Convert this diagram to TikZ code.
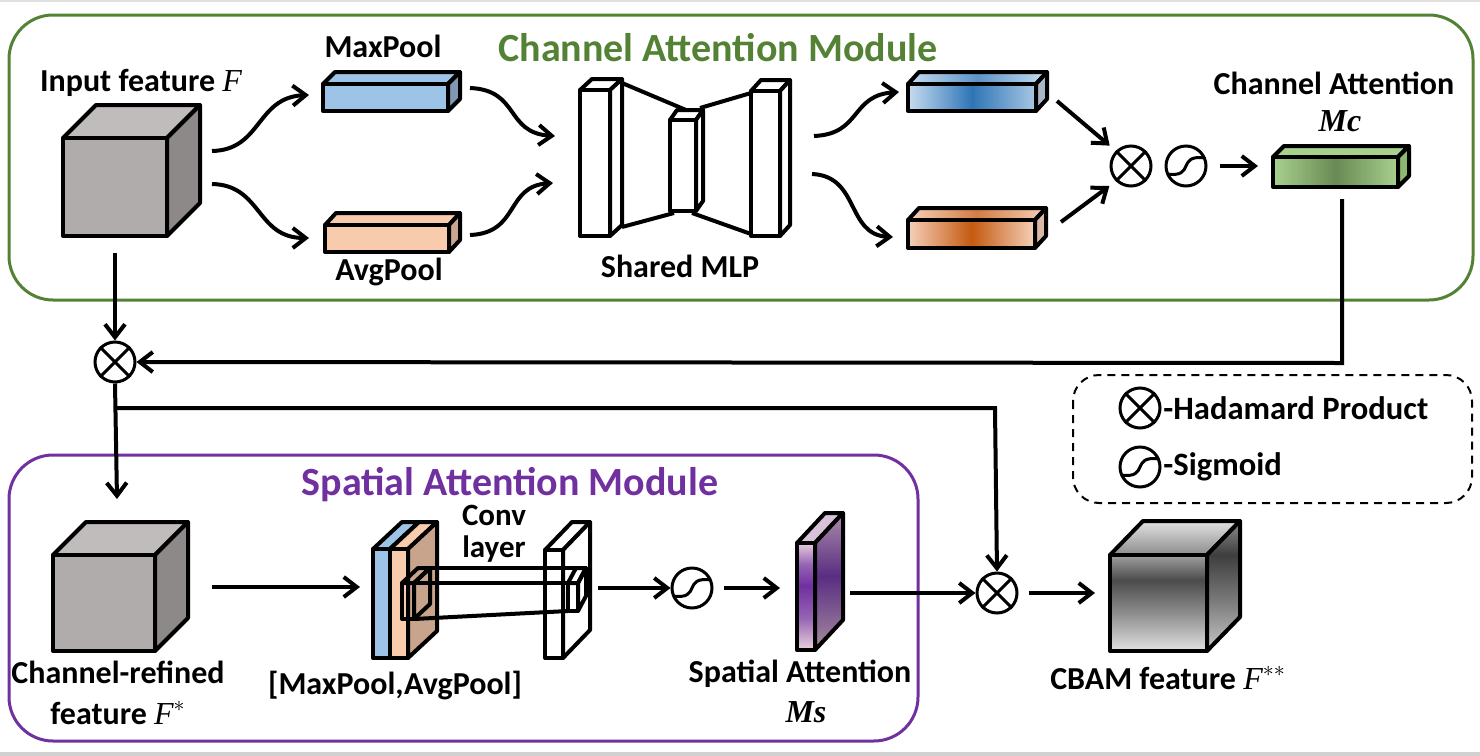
\documentclass[tikz,border=0pt]{standalone}
\usepackage{fontspec}
\setmainfont{Carlito}
\newfontfamily\mfont{Liberation Serif}
\usetikzlibrary{arrows.meta,calc}
\definecolor{cagreen}{RGB}{84,130,53}
\definecolor{sapurple}{RGB}{112,48,160}
\definecolor{cubefront}{RGB}{175,172,171}
\definecolor{cubetop}{RGB}{192,188,187}
\definecolor{cubeside}{RGB}{141,137,136}
\definecolor{mpblue}{RGB}{157,195,230}
\definecolor{mpside}{RGB}{128,152,178}
\definecolor{appeach}{RGB}{248,203,173}
\definecolor{apside}{RGB}{201,166,144}
\definecolor{bluelt}{RGB}{200,220,240}
\definecolor{bluedk}{RGB}{46,117,182}
\definecolor{blueside}{RGB}{168,184,200}
\definecolor{orglt}{RGB}{245,208,186}
\definecolor{orgdk}{RGB}{197,90,17}
\definecolor{orgside}{RGB}{217,184,165}
\definecolor{grnlt}{RGB}{169,209,142}
\definecolor{grndk}{RGB}{104,137,84}
\definecolor{grnside}{RGB}{141,184,112}
\definecolor{brownside}{RGB}{201,164,140}
\definecolor{cbA}{RGB}{226,226,226}
\definecolor{cbB}{RGB}{140,140,140}
\definecolor{cbC}{RGB}{75,75,75}
\definecolor{cbD}{RGB}{160,160,160}
\definecolor{cbE}{RGB}{200,200,200}
\definecolor{cbF}{RGB}{120,120,120}
\definecolor{cbG}{RGB}{62,62,62}
\definecolor{cbH}{RGB}{140,140,140}
\definecolor{puA}{RGB}{235,210,220}
\definecolor{puB}{RGB}{112,48,160}
\definecolor{puC}{RGB}{150,100,180}
\definecolor{puD}{RGB}{230,205,222}
\definecolor{psA}{RGB}{165,140,160}
\definecolor{psB}{RGB}{90,45,130}
\definecolor{psC}{RGB}{170,140,170}
\definecolor{putop}{RGB}{217,194,216}
\pgfdeclareverticalshading{cbamfront}{100bp}{color(0bp)=(cbA); color(25bp)=(cbA); color(45bp)=(cbB); color(62bp)=(cbC); color(75bp)=(cbD); color(100bp)=(cbD)}
\pgfdeclareverticalshading{cbamside}{100bp}{color(0bp)=(cbE); color(25bp)=(cbE); color(45bp)=(cbF); color(62bp)=(cbG); color(75bp)=(cbH); color(100bp)=(cbH)}
\pgfdeclareverticalshading{cbamtop}{100bp}{color(0bp)=(cbB); color(25bp)=(cbB); color(75bp)=(cbA); color(100bp)=(cbA)}
\pgfdeclareverticalshading{pufront}{100bp}{color(0bp)=(puA); color(25bp)=(puA); color(40bp)=(puC); color(55bp)=(puB); color(65bp)=(puC); color(75bp)=(puD); color(100bp)=(puD)}
\pgfdeclareverticalshading{puside}{100bp}{color(0bp)=(psA); color(25bp)=(psA); color(52bp)=(psB); color(75bp)=(psC); color(100bp)=(psC)}
\newcommand\cuboid[9]{%
  \path[draw,line width=2pt,line join=round,#8] (#1,#2) -- (#1+#5,#2-#6) -- (#3+#5,#2-#6) -- (#3,#2) -- cycle;
  \path[draw,line width=2pt,line join=round,#9] (#3,#2) -- (#3+#5,#2-#6) -- (#3+#5,#4-#6) -- (#3,#4) -- cycle;
  \path[draw,line width=2pt,line join=round,#7] (#1,#2) rectangle (#3,#4);
}
\newcommand\otimesmark[1]{\draw[line width=1.5pt] (#1.north east)--(#1.south west) (#1.north west)--(#1.south east);}
\newcommand\sigmark[1]{\draw[line width=1.5pt] ([shift={(-19,8)}]#1.center) .. controls ([shift={(10,12)}]#1.center) and ([shift={(-10,-12)}]#1.center) .. ([shift={(19,-8)}]#1.center);}
\newcommand\vF{{\mfont\mdseries\itshape F}}
\tikzset{
  lbl/.style={font=\fontsize{16}{18}\selectfont\bfseries, inner sep=0pt},
  ttl/.style={font=\fontsize{20}{22}\selectfont\bfseries, inner sep=0pt},
  opnode/.style={circle, draw, line width=1.5pt, minimum size=20pt, inner sep=0pt},
  arr/.style={line width=2pt, -{Straight Barb[length=6.5pt,width=10pt,line width=2pt]}},
  ln/.style={line width=2pt},
}
\begin{document}
\begin{tikzpicture}[x=0.5pt,y=-0.5pt]
\useasboundingbox (0,0) rectangle (1480,756);
\fill[black!18] (0,752) rectangle (1480,756);
\fill[black!12] (0,0) rectangle (1480,1.5);
% module frames
\draw[line width=1.5pt, cagreen, rounded corners=22pt] (9,15) rectangle (1473,300);
\draw[line width=1.5pt, sapurple, rounded corners=22pt] (9,455) rectangle (918,741);
\draw[line width=1pt, dash pattern=on 4pt off 3pt, rounded corners=13pt] (1073,375) rectangle (1472,503);
\node[ttl, text=cagreen] (cat) at (718,48) {Channel Attention Module};
\node[ttl, text=sapurple] (sat) at (510,485) {Spatial Attention Module};
% input cube
\cuboid{63}{138}{167}{236}{33}{33}{fill=cubefront}{fill=cubetop}{fill=cubeside}
\node[lbl] (inlab) at (141,83) {Input feature \vF};
% pool bars
\cuboid{323}{84}{448}{111}{12}{12}{fill=mpblue}{fill=mpblue}{fill=mpside}
\cuboid{325}{225}{449}{252}{11}{12}{fill=appeach}{fill=appeach}{fill=apside}
\node[lbl] (mplab) at (383,46) {MaxPool};
\node[lbl] (aplab) at (389,272) {AvgPool};
% MLP
\draw[ln] (622,83) -- (686,110) (700,108) -- (751,93);
\draw[ln] (622,227) -- (674,213) (692,213) -- (751,234);
\cuboid{580}{90}{610}{236}{12}{11}{fill=white}{fill=white}{fill=white}
\cuboid{670}{120}{696}{211}{7}{10}{fill=white}{fill=white}{fill=white}
\cuboid{751}{91}{780}{236}{10}{11}{fill=white}{fill=white}{fill=white}
\node[lbl] (mlplab) at (680,266) {Shared MLP};
% gradient bars
\cuboid{908}{84}{1036}{111}{11}{12}{left color=bluelt,right color=bluelt!80!bluedk,middle color=bluedk}{left color=bluelt,right color=bluelt,middle color=bluedk!70!bluelt}{fill=blueside}
\cuboid{908}{220}{1035}{248}{11}{12}{left color=orglt,right color=orglt,middle color=orgdk}{left color=orglt,right color=orglt,middle color=orgdk!70!orglt}{fill=orgside}
% channel attention bar
\cuboid{1273}{157}{1398}{187}{11}{11}{left color=grnlt,right color=grnlt,middle color=grndk}{fill=grnlt}{fill=grnside}
\node[lbl] (calab) at (1334,83) {Channel Attention};
\node[lbl] (mclab) at (1340,121) {{\mfont\bfseries\itshape Mc}};
% operators top
\node[opnode] (ot1) at (1131,166) {}; \otimesmark{ot1}
\node[opnode] (sg1) at (1186,166) {}; \sigmark{sg1}
% coordinates
\coordinate (inA) at (212,151); \coordinate (mpIn) at (309,95);
\coordinate (inB) at (212,184); \coordinate (apIn) at (309,238);
\coordinate (mpOut) at (470,88); \coordinate (mlpInA) at (555,136);
\coordinate (apOut) at (470,235); \coordinate (mlpInB) at (553,183);
\coordinate (mlpOutA) at (814,136); \coordinate (bbIn) at (899,92);
\coordinate (mlpOutB) at (812,174); \coordinate (obIn) at (893,237);
\coordinate (bbOut) at (1057,101); \coordinate (obOut) at (1061,222);
\coordinate (gbIn) at (1258,166);
\coordinate (gbOut) at (1342,199); \coordinate (gbCorner) at (1342,363);
\coordinate (inDown) at (115,253);
\draw[arr] (inA) .. controls (262,150) and (256,97) .. (mpIn);
\draw[arr] (inB) .. controls (262,185) and (256,238) .. (apIn);
\draw[arr] (mpOut) .. controls (520,90) and (505,133) .. (mlpInA);
\draw[arr] (apOut) .. controls (520,233) and (505,186) .. (mlpInB);
\draw[arr] (mlpOutA) .. controls (862,134) and (850,95) .. (bbIn);
\draw[arr] (mlpOutB) .. controls (860,176) and (846,235) .. (obIn);
\draw[arr, shorten >=4pt] (bbOut) -- (ot1.north west);
\draw[arr, shorten >=4pt] (obOut) -- (ot1.south west);
\draw[arr] (sg1.east) ++(12,0) -- (gbIn);
% left column
\node[opnode] (ot2) at (115,362) {}; \otimesmark{ot2}
\draw[arr] (inDown) -- (ot2.north);
\draw[arr] (gbOut) -- (gbCorner) -- (ot2.east);
\coordinate (br) at (117,408);
\coordinate (fsIn) at (117,499);
\draw[arr] (ot2.south) -- (fsIn);
% legend
\node[opnode] (lot) at (1140,408) {}; \otimesmark{lot}
\node[opnode] (lsg) at (1140,467) {}; \sigmark{lsg}
\node[lbl, anchor=west, font=\fontsize{16.3}{18}\selectfont\bfseries] (lt1) at (1163,408) {-Hadamard Product};
\node[lbl, anchor=west, font=\fontsize{16.3}{18}\selectfont\bfseries] (lt2) at (1163,467) {-Sigmoid};
% spatial module
\cuboid{53}{555}{155}{651}{33}{33}{fill=cubefront}{fill=cubetop}{fill=cubeside}
\node[lbl] (crlab) at (118,672) {Channel-refined};
\node[lbl] (crlab2) at (118,713) {feature \vF$^{*}$};
\coordinate (crOut) at (212,587); \coordinate (stIn) at (360,587);
\draw[arr] (crOut) -- (stIn);
% stacked pool maps
\cuboid{373}{549}{390}{658}{29}{27}{fill=mpblue}{fill=mpblue}{fill=mpblue}
\cuboid{390}{549}{408}{658}{29}{27}{fill=appeach}{fill=appeach}{fill=brownside}
% kernel cube on stack
\cuboid{402}{583}{414}{619}{16}{15}{fill=none}{fill=none}{fill=none}
% conv layer slab
\cuboid{545}{550}{563}{658}{27}{28}{fill=white}{fill=white}{fill=white}
\cuboid{568}{583}{578}{611}{8}{15}{fill=none}{fill=none}{fill=none}
\draw[ln] (418,568) -- (586,568);
\draw[ln] (414,583) -- (568,583);
\draw[ln] (414,619) -- (568,611);
\node[lbl, align=center, font=\fontsize{15.5}{16}\selectfont\bfseries] (convlab) at (494,534) {Conv\\layer};
\node[lbl] (stlab) at (395,686) {[MaxPool,AvgPool]};
\coordinate (cvOut) at (598,588);
\node[opnode] (sg2) at (692,588) {}; \sigmark{sg2}
\draw[arr] (cvOut) -- (sg2.west);
\coordinate (msIn) at (780,588);
\draw[arr] (sg2.east) ++(10,0) -- (msIn);
% Ms slab
\cuboid{797}{543}{815}{650}{28}{30}{shade,shading=pufront}{fill=putop}{shade,shading=puside}
\node[lbl] (salab) at (800,674) {Spatial Attention};
\node[lbl] (mslab) at (806,712) {{\mfont\bfseries\itshape Ms}};
% final product
\node[opnode] (ot3) at (997,593) {}; \otimesmark{ot3}
\coordinate (msOut) at (850,593);
\draw[arr] (msOut) -- (ot3.west);
\draw[arr] (ot2.south |- br) -- (995,408) -- (ot3.north);
\coordinate (cbIn) at (1095,593);
\draw[arr] (ot3.east) ++(10,0) -- (cbIn);
\cuboid{1110}{555}{1207}{651}{33}{34}{shade,shading=cbamfront}{shade,shading=cbamtop}{shade,shading=cbamside}
\node[lbl] (cblab) at (1168,678) {CBAM feature \vF$^{**}$};
\end{tikzpicture}
\end{document}
